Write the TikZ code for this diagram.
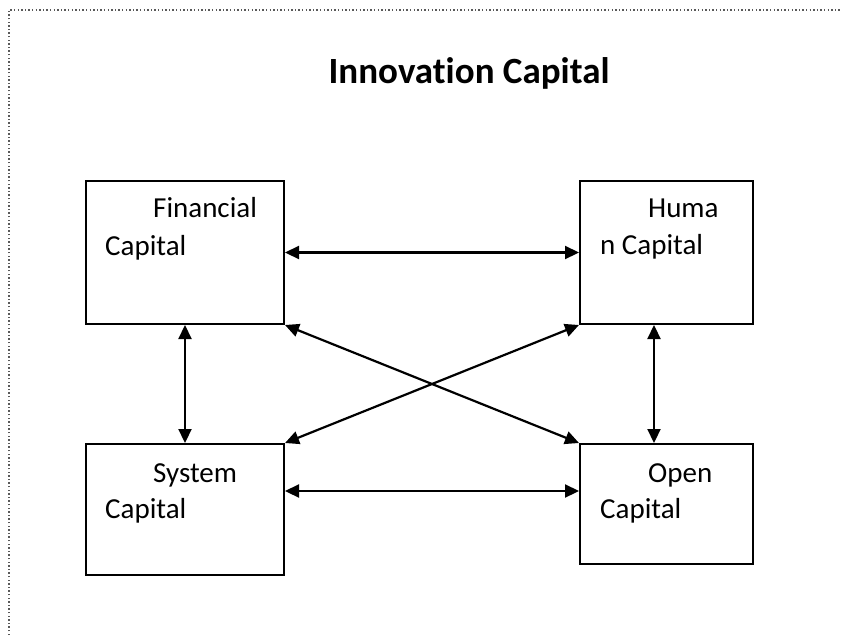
\documentclass[tikz,border=0pt]{standalone}
\usepackage{fontspec}
\setmainfont{Carlito}[Ligatures=NoCommon]
\usepackage{tikz}
\usetikzlibrary{positioning, arrows.meta}

\begin{document}
\begin{tikzpicture}[
            x=1pt, y=-1pt,
            capbox/.style={rectangle, draw, line width=2pt, anchor=north west, inner sep=0pt},
            captext/.style={anchor=base west, inner sep=0pt, font=\fontsize{29}{35}\selectfont},
            link/.style={<->, line width=2.2pt, >={Triangle[length=14pt, width=13pt]}},
        ]
            \useasboundingbox (0,0) rectangle (841,635);
            \draw[gray!70!black, line width=1.5pt, dash pattern=on 1.4pt off 2.2pt] (9,635) -- (9,10) -- (841,10);

            \node[anchor=base, inner sep=0pt, font=\fontsize{37}{44}\selectfont\bfseries] (title) at (469,83) {Innovation Capital};

            % the four boxes
            \node[capbox, minimum width=198pt, minimum height=143pt] (fin) at (85,180) {};
            \node[capbox, minimum width=173pt, minimum height=143pt] (hum) at (579,180) {};
            \node[capbox, minimum width=198pt, minimum height=131pt] (sys) at (85,443) {};
            \node[capbox, minimum width=173pt, minimum height=120pt] (open) at (579,443) {};

            \node[captext] (fin1) at ([xshift=68pt, yshift=-37pt]fin.north west) {Financial};
            \node[captext] (fin2) at ([xshift=20pt, yshift=-75pt]fin.north west) {Capital};
            \node[captext] (hum1) at ([xshift=69pt, yshift=-37pt]hum.north west) {Huma};
            \node[captext] (hum2) at ([xshift=21pt, yshift=-74pt]hum.north west) {n Capital};
            \node[captext] (sys1) at ([xshift=68pt, yshift=-39pt]sys.north west) {System};
            \node[captext] (sys2) at ([xshift=20pt, yshift=-75pt]sys.north west) {Capital};
            \node[captext] (open1) at ([xshift=69pt, yshift=-39pt]open.north west) {Open};
            \node[captext] (open2) at ([xshift=21pt, yshift=-75pt]open.north west) {Capital};

            % links
            \coordinate (low) at (0,491);
            \coordinate (rv) at (654,0);
            \draw[link] (fin.east) -- (hum.west);
            \draw[link] (sys.east |- low) -- (open.west |- low);
            \draw[link] (fin.south) -- (sys.north);
            \draw[link] (hum.south -| rv) -- (open.north -| rv);
            \draw[link] (fin.south east) -- (open.north west);
            \draw[link] (hum.south west) -- (sys.north east);
        \end{tikzpicture}
\end{document}
